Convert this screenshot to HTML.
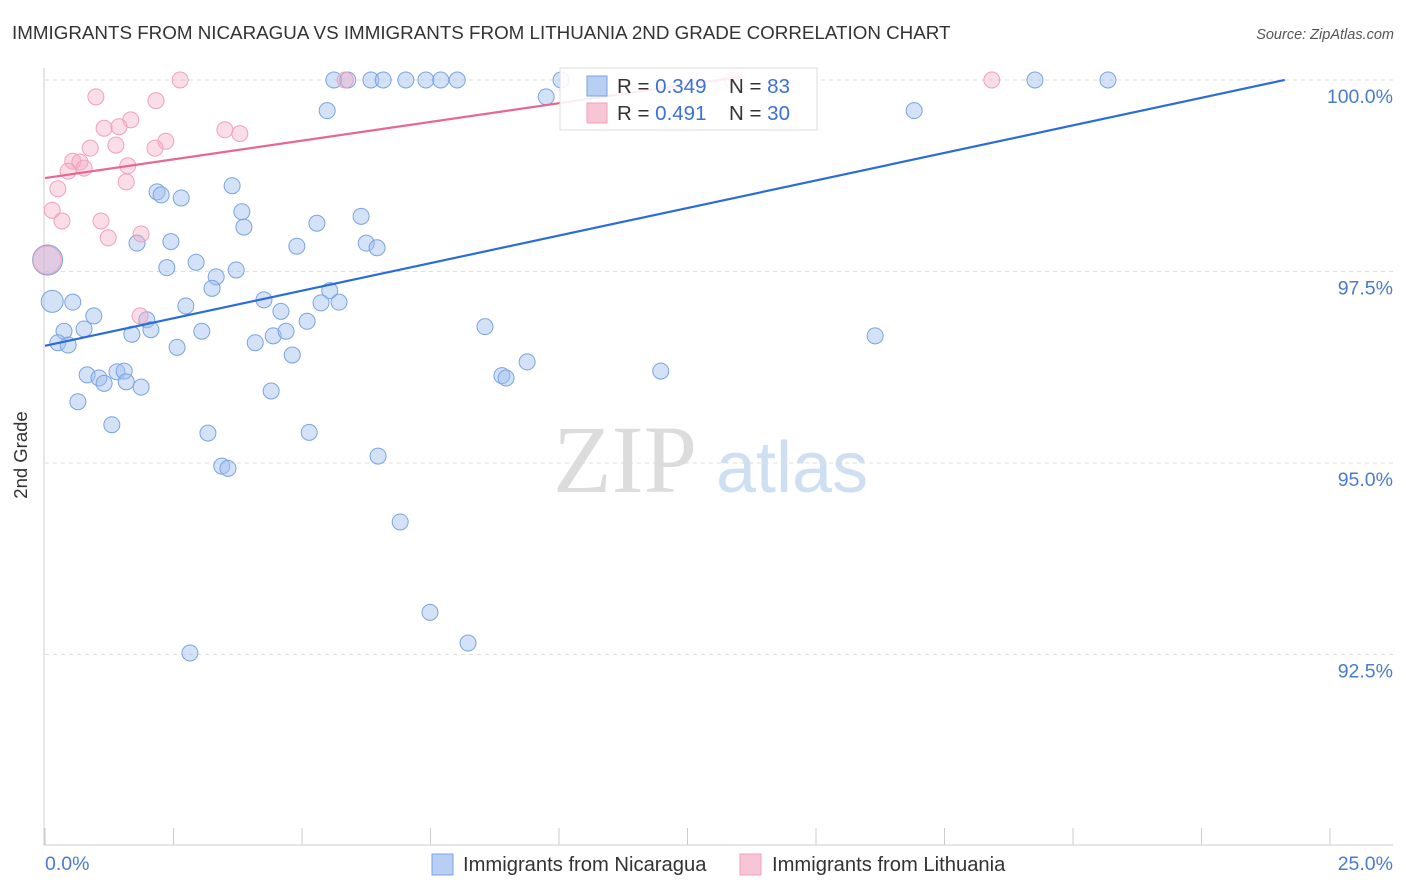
<!DOCTYPE html>
<html><head><meta charset="utf-8"><style>
body{margin:0;background:#fff;font-family:"Liberation Sans",sans-serif;}
#wrap{position:relative;width:1406px;height:892px;overflow:hidden;}
</style></head><body>
<div id="wrap">
<svg id="svg" width="1406" height="892" xmlns="http://www.w3.org/2000/svg">
<text x="12" y="39" font-size="18.8" fill="#333">IMMIGRANTS FROM NICARAGUA VS IMMIGRANTS FROM LITHUANIA 2ND GRADE CORRELATION CHART</text>
<text x="1394" y="39" font-size="14.5" fill="#555" font-style="italic" text-anchor="end">Source: ZipAtlas.com</text>
<g>
<text x="553" y="492" font-size="96" fill="#dcdcdc" font-family="Liberation Serif,serif">ZIP</text>
<text x="716" y="492" font-size="72" fill="#cfdff3">atlas</text>
</g>
<g id="grid"></g><g id="axes"></g><g id="pts"></g><g id="lines"></g>
<text x="27" y="455" font-size="18.5" fill="#333" text-anchor="middle" transform="rotate(-90 27 455)">2nd Grade</text>
<g>
<rect x="560" y="68" width="257" height="62" fill="#fff" fill-opacity="0.88" stroke="#ddd"/>
<rect x="587" y="76" width="20" height="20" fill="#b8cff3" stroke="#7aa3e0"/>
<text x="617" y="93" font-size="20.5" fill="#333">R = <tspan fill="#3b70d6">0.349</tspan></text>
<text x="729" y="93" font-size="20.5" fill="#333">N = <tspan fill="#3b70d6">83</tspan></text>
<rect x="587" y="103" width="20" height="20" fill="#f8c5d5" stroke="#f0a0bb"/>
<text x="617" y="120" font-size="20.5" fill="#333">R = <tspan fill="#3b70d6"> 0.491</tspan></text>
<text x="729" y="120" font-size="20.5" fill="#333">N = <tspan fill="#3b70d6">30</tspan></text>
</g>
<g>
<rect x="432" y="854" width="21" height="21" fill="#b8cff3" stroke="#7aa3e0"/>
<text x="463" y="871" font-size="20.2" fill="#333">Immigrants from Nicaragua</text>
<rect x="740" y="854" width="21" height="21" fill="#f8c5d5" stroke="#f0a0bb"/>
<text x="772" y="871" font-size="20.2" fill="#333">Immigrants from Lithuania</text>
</g>
</svg>
</div>
<script>
const xTicks=[0,2.5,5,7.5,10,12.5,15,17.5,20,22.5,25];
const yTicks=[100,97.5,95,92.5];
const yTickLabels=["100.0%","97.5%","95.0%","92.5%"];
const xEndLabels=["0.0%","25.0%"];
const blueX=[5.62,5.89,6.34,6.58,7.02,7.41,7.70,8.02,10.04,19.26,20.68,5.49,9.75,16.91,3.64,2.18,2.26,2.65,3.83,3.87,5.29,6.15,1.79,2.45,4.90,6.25,6.46,2.94,2.37,3.72,3.33,3.25,0.14,0.54,2.74,4.26,4.59,5.54,5.37,5.72,0.95,1.98,2.06,1.69,0.37,0.76,3.05,5.10,4.44,4.69,8.56,16.15,0.25,0.45,2.57,4.09,4.81,9.38,0.82,1.05,1.15,1.40,1.54,1.58,1.87,4.40,8.89,8.97,11.98,0.64,1.30,3.17,5.14,6.48,3.44,3.56,6.91,7.49,8.23,2.82,0.05];
const blueY=[100,100,100,100,100,100,100,100,100,100,100,99.60,99.78,99.60,98.62,98.54,98.50,98.46,98.28,98.08,98.13,98.22,97.87,97.89,97.83,97.87,97.81,97.62,97.55,97.52,97.43,97.28,97.11,97.10,97.05,97.13,96.98,97.25,97.09,97.10,96.92,96.87,96.74,96.68,96.72,96.75,96.72,96.85,96.66,96.72,96.78,96.66,96.57,96.54,96.51,96.57,96.41,96.32,96.15,96.11,96.04,96.19,96.20,96.06,95.99,95.94,96.14,96.11,96.20,95.80,95.50,95.39,95.40,95.09,94.96,94.93,94.23,93.05,92.65,92.52,97.65];
const blueR=[8,8,8,8,8,8,8,8,8,8,8,8,8,8,8,8,8,8,8,8,8,8,8,8,8,8,8,8,8,8,8,8,11,8,8,8,8,8,8,8,8,8,8,8,8,8,8,8,8,8,8,8,8,8,8,8,8,8,8,8,8,8,8,8,8,8,8,8,8,8,8,8,8,8,8,8,8,8,8,8,15];
const pinkX=[2.63,5.84,13.37,18.42,0.99,2.16,1.67,1.15,1.44,3.50,3.79,2.35,1.38,0.88,2.14,0.54,0.68,0.76,0.45,1.61,1.58,0.25,0.14,0.33,1.09,1.23,1.87,1.85,0.04];
const pinkY=[100,100,100,100,99.78,99.73,99.48,99.37,99.39,99.35,99.30,99.20,99.15,99.11,99.11,98.94,98.93,98.85,98.81,98.88,98.67,98.58,98.30,98.16,98.16,97.94,97.99,96.92,97.65];
const pinkR=[8,8,8,8,8,8,8,8,8,8,8,8,8,8,8,8,8,8,8,8,8,8,8,8,8,8,8,8,14];
const trendIntercept=[96.53,98.72];
const trendSlope=[0.1439,0.0977];
const trendEnd=[24.12,13.5];

const NS="http://www.w3.org/2000/svg";
const sx=v=>45+v*51.4;
const sy=v=>80+(100-v)*76.6;
function mk(tag,attrs,parent){const e=document.createElementNS(NS,tag);for(const k in attrs)e.setAttribute(k,attrs[k]);document.getElementById(parent).appendChild(e);return e;}
yTicks.forEach((t,i)=>{
  const l=mk('line',{x1:45,x2:1393,y1:sy(t),y2:sy(t),stroke:'#ddd','stroke-dasharray':'4,4'},'grid');
  
  
  const tx=mk('text',{x:1393,y:sy(t)+23,'font-size':19.5,fill:'#4a7bd0','text-anchor':'end'},'grid');
  tx.textContent=yTickLabels[i];
  
  
});
const ax=mk('line',{x1:44,x2:44,y1:68,y2:845,stroke:'#ccc'},'axes');


const bx=mk('line',{x1:44,x2:1393,y1:845,y2:845,stroke:'#ccc'},'axes');


xTicks.forEach(t=>{
  const l=mk('line',{x1:sx(t),x2:sx(t),y1:828,y2:845,stroke:'#ccc'},'axes');
  
  
});
const xl0=mk('text',{x:45,y:870,'font-size':19.5,fill:'#4a7bd0'},'axes');
xl0.textContent=xEndLabels[0];


const xl1=mk('text',{x:1393,y:870,'font-size':19.5,fill:'#4a7bd0','text-anchor':'end'},'axes');
xl1.textContent=xEndLabels[1];


blueX.forEach((v,i)=>{
  const c=mk('circle',{cx:sx(v),cy:sy(blueY[i]),r:blueR[i],fill:'rgba(160,190,240,0.45)',stroke:'#7aa3e0','stroke-width':1},'pts');
  
  
});
pinkX.forEach((v,i)=>{
  const c=mk('circle',{cx:sx(v),cy:sy(pinkY[i]),r:pinkR[i],fill:'rgba(245,170,195,0.4)',stroke:'#f0a0bb','stroke-width':1},'pts');
  
  
});
const cols=['#2a6dd8','#e8678f'];
const names=['trend-line-nicaragua','trend-line-lithuania'];
trendIntercept.forEach((b,i)=>{
  const l=mk('line',{x1:sx(0),y1:sy(b),x2:sx(trendEnd[i]),y2:sy(b+trendSlope[i]*trendEnd[i]),stroke:cols[i],'stroke-width':2.2},'lines');
  
  
});
</script>
</body></html>
